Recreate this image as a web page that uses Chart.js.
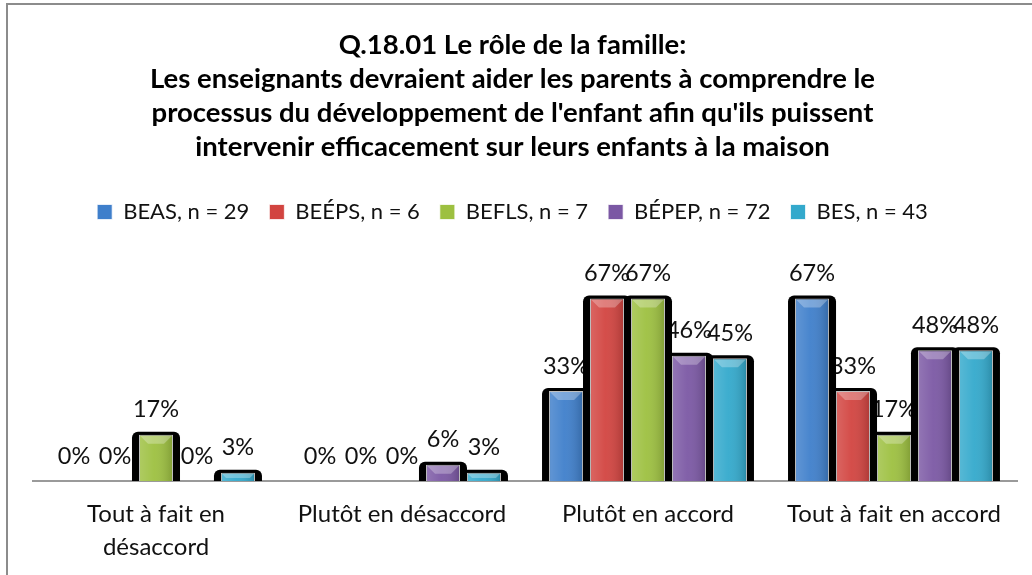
<!DOCTYPE html>
<html>
<head>
<meta charset="utf-8">
<script src="https://cdn.jsdelivr.net/npm/chart.js@4.4.1/dist/chart.umd.min.js"></script>
<style>
  html, body { margin: 0; padding: 0; background: #ffffff; }
  #wrap { width: 1032px; height: 575px; position: relative; }
</style>
</head>
<body>
<div id="wrap"><canvas id="c" width="1032" height="575"></canvas></div>
<script>
const titleLines = [
  "Q.18.01 Le rôle de la famille:",
  "Les enseignants devraient aider les parents à comprendre le",
  "processus du développement de l'enfant afin qu'ils puissent",
  "intervenir efficacement sur leurs enfants à la maison"
];
const categories = [
  ["Tout à fait en", "désaccord"],
  "Plutôt en désaccord",
  "Plutôt en accord",
  "Tout à fait en accord"
];
const seriesNames = ["BEAS, n = 29", "BEÉPS, n = 6", "BEFLS, n = 7", "BÉPEP, n = 72", "BES, n = 43"];
const BEAS  = [0, 0, 33, 67];
const BEEPS = [0, 0, 67, 33];
const BEFLS = [17, 0, 67, 17];
const BEPEP = [0, 6, 46, 48];
const BES   = [3, 3, 45, 48];
const seriesColors = ["#3f7fcb", "#d24440", "#9dc040", "#7b58a4", "#33a9cc"];

const FONT = 'Lato, "Open Sans", "DejaVu Sans", sans-serif';

const framePlugin = {
  id: 'frame',
  beforeDraw(chart) {
    const ctx = chart.ctx;
    ctx.save();
    ctx.strokeStyle = '#8c8c8c';
    ctx.lineWidth = 2;
    ctx.beginPath();
    ctx.moveTo(7, 575);
    ctx.lineTo(7, 4);
    ctx.lineTo(1032, 4);
    ctx.stroke();
    ctx.restore();
  }
};

const labelPlugin = {
  id: 'valueLabels',
  beforeDatasetsDraw(chart) {
    const ctx = chart.ctx;
    ctx.save();
    ctx.font = '23.5px ' + FONT;
    ctx.fillStyle = '#111111';
    ctx.textAlign = 'center';
    ctx.textBaseline = 'middle';
    chart.data.datasets.forEach((ds, di) => {
      const meta = chart.getDatasetMeta(di);
      meta.data.forEach((el, i) => {
        ctx.fillText(ds.data[i] + '%', el.x, el.y - 25);
      });
    });
    ctx.restore();
  }
};

const shadowPlugin = {
  id: 'barShadow',
  beforeDatasetDraw(chart, args) {
    const ctx = chart.ctx;
    ctx.save();
    ctx.fillStyle = '#000000';
    args.meta.data.forEach(el => {
      const h = el.base - el.y;
      if (h < 1) return;
      const w = el.width;
      ctx.beginPath();
      ctx.roundRect(el.x - w / 2 - 7, el.y - 3, w + 14, h + 3, [6, 6, 0, 0]);
      ctx.fill();
    });
    ctx.restore();
  },
  afterDatasetDraw(chart, args) {
    const ctx = chart.ctx;
    ctx.save();
    args.meta.data.forEach(el => {
      const h = el.base - el.y;
      if (h < 2) return;
      const w = el.width;
      const l = el.x - w / 2, r = el.x + w / 2, t = el.y;
      const g = ctx.createLinearGradient(l, 0, r, 0);
      g.addColorStop(0, 'rgba(255,255,255,0.18)');
      g.addColorStop(0.45, 'rgba(255,255,255,0.05)');
      g.addColorStop(1, 'rgba(0,0,0,0.18)');
      ctx.fillStyle = g;
      ctx.fillRect(l + 1, t + 1, w - 2, h - 1);
      const bev = Math.min(8, h / 2);
      ctx.fillStyle = 'rgba(255,255,255,0.28)';
      ctx.beginPath();
      ctx.moveTo(l + 1, t + 1);
      ctx.lineTo(r - 1, t + 1);
      ctx.lineTo(r - 1 - bev, t + 1 + bev);
      ctx.lineTo(l + 1 + bev, t + 1 + bev);
      ctx.closePath();
      ctx.fill();
    });
    ctx.restore();
  }
};

const values = [BEAS, BEEPS, BEFLS, BEPEP, BES];
const datasets = seriesNames.map((name, i) => ({
  label: name,
  data: values[i],
  backgroundColor: seriesColors[i],
  borderColor: 'rgba(255,255,255,0.75)',
  borderWidth: 1,
  borderSkipped: 'bottom',
  categoryPercentage: 0.833,
  barPercentage: 0.83
}));

new Chart(document.getElementById('c'), {
  type: 'bar',
  data: { labels: categories, datasets },
  options: {
    responsive: false,
    animation: false,
    events: [],
    layout: { padding: { top: 14, left: 8, right: 15, bottom: -6 } },
    plugins: {
      title: {
        display: true,
        text: titleLines,
        color: '#000000',
        font: { family: FONT, size: 27.5, weight: 'bold', lineHeight: '34px' },
        padding: { top: 14, bottom: 17 }
      },
      legend: {
        display: true,
        position: 'top',
        labels: {
          color: '#111111',
          font: { family: FONT, size: 22 },
          boxWidth: 15,
          boxHeight: 15,
          padding: 20
        }
      },
      tooltip: { enabled: false }
    },
    scales: {
      x: {
        grid: { display: false, drawTicks: false, tickLength: 0 },
        border: { display: true, color: '#9a9a9a', width: 2 },
        ticks: {
          color: '#111111',
          font: { family: FONT, size: 24, lineHeight: '33px' },
          padding: 17,
          maxRotation: 0,
          autoSkip: false
        }
      },
      y: {
        display: true,
        min: 0,
        max: 91,
        grid: { display: false, drawTicks: false },
        border: { display: false },
        ticks: { display: false },
        afterFit(scale) { scale.width = 25; }
      }
    }
  },
  plugins: [framePlugin, labelPlugin, shadowPlugin]
});
</script>
</body>
</html>
